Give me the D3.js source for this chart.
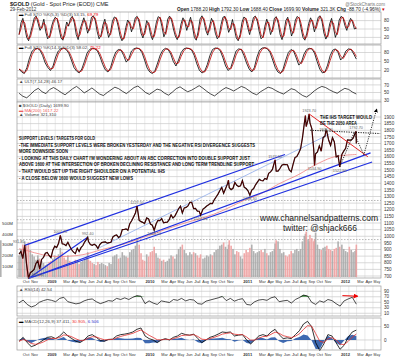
<!DOCTYPE html>
<html><head><meta charset="utf-8">
<script src="https://cdn.jsdelivr.net/npm/d3@7"></script>
<style>body{margin:0;background:#fff}svg{display:block}text{font-family:"Liberation Sans",Arial,sans-serif}</style>
</head><body><svg id="c" width="400" height="359"></svg>
<script>
// ---------------- DATA ----------------
const priceDates=["2008-09-19","2008-09-26","2008-10-03","2008-10-10","2008-10-17","2008-10-24","2008-10-31","2008-11-07","2008-11-14","2008-11-21","2008-11-28","2008-12-05","2008-12-12","2008-12-19","2008-12-26",
"2009-01-02","2009-01-09","2009-01-16","2009-01-23","2009-01-30","2009-02-06","2009-02-13","2009-02-20","2009-02-27","2009-03-06","2009-03-13","2009-03-20","2009-03-27","2009-04-03","2009-04-10","2009-04-17","2009-04-24","2009-05-01","2009-05-08","2009-05-15","2009-05-22","2009-05-29","2009-06-02","2009-06-05","2009-06-12","2009-06-19","2009-06-26","2009-07-03","2009-07-10","2009-07-17","2009-07-24","2009-07-31","2009-08-07","2009-08-14","2009-08-21","2009-08-28","2009-09-04","2009-09-11","2009-09-18","2009-09-25","2009-10-02","2009-10-09","2009-10-16","2009-10-23","2009-10-30","2009-11-06","2009-11-13","2009-11-20","2009-11-27","2009-12-03","2009-12-11","2009-12-18","2009-12-24","2009-12-31",
"2010-01-08","2010-01-15","2010-01-22","2010-01-29","2010-02-05","2010-02-12","2010-02-19","2010-02-26","2010-03-05","2010-03-12","2010-03-19","2010-03-26","2010-04-02","2010-04-09","2010-04-16","2010-04-23","2010-04-30","2010-05-07","2010-05-14","2010-05-21","2010-05-28","2010-06-04","2010-06-11","2010-06-18","2010-06-25","2010-07-02","2010-07-09","2010-07-16","2010-07-23","2010-07-28","2010-08-06","2010-08-13","2010-08-20","2010-08-27","2010-09-03","2010-09-10","2010-09-17","2010-09-24","2010-10-01","2010-10-08","2010-10-15","2010-10-22","2010-10-29","2010-11-05","2010-11-09","2010-11-12","2010-11-19","2010-11-26","2010-12-03","2010-12-10","2010-12-17","2010-12-24","2010-12-31",
"2011-01-07","2011-01-14","2011-01-21","2011-01-28","2011-02-04","2011-02-11","2011-02-18","2011-02-25","2011-03-04","2011-03-11","2011-03-18","2011-03-25","2011-04-01","2011-04-08","2011-04-15","2011-04-22","2011-04-29","2011-05-02","2011-05-06","2011-05-13","2011-05-20","2011-05-27","2011-06-03","2011-06-10","2011-06-17","2011-06-24","2011-07-01","2011-07-08","2011-07-15","2011-07-22","2011-07-29","2011-08-05","2011-08-12","2011-08-19","2011-08-23","2011-08-26","2011-09-02","2011-09-06","2011-09-09","2011-09-16","2011-09-23","2011-09-26","2011-09-30","2011-10-07","2011-10-14","2011-10-21","2011-10-28","2011-11-04","2011-11-08","2011-11-11","2011-11-18","2011-11-25","2011-12-02","2011-12-09","2011-12-16","2011-12-23","2011-12-29",
"2012-01-06","2012-01-13","2012-01-20","2012-01-27","2012-02-03","2012-02-10","2012-02-17","2012-02-24","2012-02-28","2012-02-29"];
const priceValues=[865,885,832,931,790,681,725,735,750,795,815,752,825,840,872,
878,855,838,895,925,915,945,1007,943,940,930,955,924,898,880,869,910,885,914,930,958,978,992,960,937,932,940,930,908,937,952,955,957,948,952,955,995,1006,1010,990,1003,1050,1051,1056,1045,1095,1117,1146,1176,1227,1120,1110,1105,1096,
1138,1130,1092,1083,1045,1092,1120,1118,1133,1102,1105,1106,1125,1162,1138,1152,1180,1208,1228,1176,1214,1218,1229,1256,1256,1208,1210,1190,1189,1158,1205,1215,1228,1237,1248,1246,1275,1296,1318,1345,1368,1325,1358,1393,1424,1367,1352,1362,1406,1385,1375,1380,1420,
1369,1360,1343,1309,1349,1360,1388,1409,1429,1421,1418,1436,1429,1475,1486,1504,1556,1577,1491,1492,1511,1536,1542,1541,1540,1500,1486,1542,1594,1601,1628,1660,1743,1852,1911,1828,1880,1923,1856,1812,1657,1535,1623,1636,1682,1642,1744,1756,1802,1788,1724,1686,1745,1712,1598,1607,1523,
1617,1642,1664,1727,1725,1725,1740,1775,1792,1700];
const volumeValues=[200,260,300,330,290,320,250,210,190,160,200,170,150,130,110,
120,140,150,170,200,180,210,270,230,180,160,200,150,140,130,160,150,120,140,150,170,190,230,160,150,130,120,110,140,120,130,120,110,100,130,120,190,200,210,170,180,230,200,190,180,230,250,260,290,360,300,220,160,150,
210,190,230,240,280,220,180,170,150,160,140,150,170,200,190,170,210,260,280,300,250,220,200,230,210,230,220,200,180,210,170,180,200,190,210,200,230,250,260,290,300,320,280,260,300,340,290,260,210,240,230,190,170,220,
250,230,270,300,240,220,230,240,250,230,260,220,200,230,240,260,310,340,330,260,220,230,200,190,210,240,220,250,260,240,260,330,380,400,420,350,330,390,360,330,350,410,300,260,250,270,280,240,290,260,250,240,260,270,330,280,300,
260,240,230,280,250,230,240,260,300,340];
const ma200Dates=["2008-09-19","2008-10-15","2008-11-15","2008-12-15","2009-01-15","2009-02-15","2009-03-15","2009-04-15","2009-05-15","2009-06-15","2009-07-15","2009-08-15","2009-09-15","2009-10-15","2009-11-15","2009-12-15","2010-01-15","2010-02-15","2010-03-15","2010-04-15","2010-05-15","2010-06-15","2010-07-15","2010-08-15","2010-09-15","2010-10-15","2010-11-15","2010-12-15","2011-01-15","2011-02-15","2011-03-15","2011-04-15","2011-05-15","2011-06-15","2011-07-15","2011-08-15","2011-09-15","2011-10-15","2011-11-15","2011-12-15","2012-01-15","2012-02-29"];
const ma200Values=[905,895,875,860,850,845,848,852,860,875,895,910,925,940,960,985,1005,1025,1050,1070,1090,1110,1125,1145,1165,1190,1220,1250,1280,1300,1325,1360,1395,1425,1450,1485,1525,1555,1585,1605,1612,1617];
const stoFastK=[30,72,88,55,20,8,35,62,90,96,70,45,60,85,40,15,22,58,80,92,85,50,18,10,42,75,60,88,95,72,30,12,48,70,90,65,35,55,92,97,80,40,15,28,64,85,50,20,38,78,93,88,60,25,8,20,55,82,70,40,62,90,95,75,35,18,45,80,66,30,12,35,72,94,90,58,22,40,85,96,82,50,25,12,30,68,90,75,45,70,92,60,20,10,42,86,97,80,45,28,60,88,72,35,15,25,66,92,95,70,38,55,84,50,18,8,30,74,93,86,55,30,62,91,96,78,42,15,22,60,85,64,30,50,88,94,70,30,12,38,80,92,60,25,45,82,95,88,52,20,10,35,70,90,72,40,65,92,97,76,35,14,30,68,88,55,20,40,82,95,90,62,45,72,88,75,50,53];
const stoSlowK=[25,15,10,30,62,85,92,94,88,70,45,30,20,35,65,85,93,95,90,78,55,30,18,12,25,50,78,90,94,92,85,65,40,22,15,30,60,82,90,88,70,48,60,85,93,95,92,80,55,28,15,10,20,45,72,88,94,90,75,50,35,55,80,92,95,93,88,70,42,20,12,18,40,70,90,95,94,85,62,35,20,30,58,85,92,90,70,45,25,15,30,65,88,95,96,92,80,55,30,15,10,25,55,80,90,85,62,38,48,75,90,94,92,78,50,25,12,15,38,70,88,92,80,55,65,85,92,90,75,58];
const ultValues=[48,40,36,45,55,61,52,47,58,63,57,50,44,52,60,66,58,49,55,62,54,46,42,50,57,64,60,53,47,55,63,67,59,50,45,52,59,56,48,43,51,60,65,58,52,56,62,68,61,53,46,41,49,57,63,59,54,60,66,62,55,48,44,52,58,64,61,55,50,46,53,60,57,49,42,38,45,54,61,66,63,57,52,48,55,61,58,51,46];
const rsiValues=[48,58,42,33,38,50,56,60,57,52,64,68,52,48,44,47,55,60,62,52,45,50,56,54,64,60,66,60,68,74,72,45,55,47,42,55,52,49,60,57,64,55,60,58,45,43,54,58,62,66,71,56,64,54,60,63,42,40,52,58,60,57,66,70,52,55,57,47,60,67,76,73,50,42,55,50,60,56,45,36,55,62,68,43];
const macdValues=[-5,10,-10,-25,-20,-10,0,10,12,5,15,30,15,5,-5,-10,0,15,20,10,-2,-5,2,3,15,20,22,25,30,40,45,15,5,0,-10,0,5,0,10,15,25,20,18,22,5,-10,0,10,15,22,30,28,30,15,18,20,0,-15,0,15,20,15,30,40,20,5,8,5,20,35,60,70,50,-10,-40,-15,20,15,-10,-35,-20,10,30,37];
const priceTicks=d3.range(700,1901,50);
const oscTicks=[80,50,20];
const ultTicks=[70,50,30];
const rsiTicks=[90,70,50,30,10];
const macdTicks=[50,0];
const volTicks=[100,200,300,400,500];
const notes=["SUPPORT LEVELS / TARGETS FOR GOLD",
"-THE IMMEDIATE SUPPORT LEVELS WERE BROKEN YESTERDAY AND THE NEGATIVE RSI DIVERGENCE SUGGESTS",
"MORE DOWNSIDE SOON",
"- LOOKING AT THIS DAILY CHART I'M WONDERING ABOUT AN ABC CORRECTION INTO DOUBLE SUPPORT JUST",
"ABOVE 1600 AT THE INTERSECTION OF BROKEN DECLINING RESISTANCE AND LONG TERM TRENDLINE SUPPORT",
"- THAT WOULD SET UP THE RIGHT SHOULDER ON A POTENTIAL IHS",
"- A CLOSE BELOW 1600 WOULD SUGGEST NEW LOWS"];
const noteWidths=[76,236,49,231,235,146,114];
// [date, price, text, dx, dy]
const pointLabels=[["2008-10-10",931,"931.85",-6,-2],["2008-10-24",681,"681.00",9,-2.5],["2009-02-20",1007,"1007.70",0,-2],["2009-06-02",992,"992.40",0,-2],["2009-12-03",1227,"1227.50",0,-2],["2010-02-05",1045,"1044.50",0,5],["2010-07-28",1158,"1157.00",0,5],["2011-01-28",1309,"1308.30",0,5],["2011-05-02",1577,"1577.50",0,-2],["2011-09-06",1923,"1923.70",0,-2],["2011-09-26",1535,"1534.90",0,5],["2011-11-08",1802,"1802.80",0,1],["2011-12-29",1523,"1522.90",0,5],["2012-02-28",1792,"1792.70",0,-2]];
const blueLines=[[["2008-10-10",931],["2011-06-08",1617]],[["2008-10-24",681],["2012-04-22",1629]],[["2008-10-24",681],["2012-04-28",1560]],[["2008-10-24",681],["2009-06-02",992]]];
const lightBlueLine=[["2009-07-10",908],["2011-11-20",1770]];
const redLine=[["2011-09-06",1923],["2012-04-12",1600]];
const neckLine=[["2011-09-10",1800],["2012-05-28",1775]];
const abcPath=[["2011-12-29",1523],["2012-02-20",1780],["2012-03-28",1615],["2012-05-15",1960]];

// ---------------- SETUP ----------------
const P=d3.timeParse("%Y-%m-%d");
const svg=d3.select("#c");
const X0=17,X1=381;
const x=d3.scaleTime().domain([P("2008-09-15"),P("2012-05-31")]).range([X0+1,X1]);
const pd=priceDates.map(P);
const first=pd[0],last=pd[pd.length-1];
const gridCol="#dcdcdc",borderCol="#9a9a9a";
const panels={
  s1:{t:12,b:44,y:d3.scaleLinear([0,100],[43,15])},
  s2:{t:45,b:78,y:d3.scaleLinear([0,100],[76.5,46.5])},
  ult:{t:79,b:102,y:d3.scaleLinear([25,75],[102,83])},
  main:{t:102,b:278,y:d3.scaleLinear([700,1900],[276,117])},
  rsi:{t:286,b:316,y:d3.scaleLinear([0,100],[316,288.5])},
  macd:{t:318,b:350,y:d3.scaleLinear([-40,60],[350.6,324])}
};
const months=d3.timeMonth.range(P("2008-10-01"),P("2012-06-01"));
function frame(p,ticks){
  const g=svg.append("g");
  g.append("rect").attr("x",X0).attr("y",p.t).attr("width",X1-X0).attr("height",p.b-p.t).attr("fill","#fff");
  g.selectAll(".v").data(months).join("line").attr("x1",d=>x(d)).attr("x2",d=>x(d)).attr("y1",p.t).attr("y2",p.b).attr("stroke",gridCol).attr("stroke-width",0.6);
  g.selectAll(".h").data(ticks).join("line").attr("x1",X0).attr("x2",X1).attr("y1",d=>p.y(d)).attr("y2",d=>p.y(d)).attr("stroke","#c8c8c8").attr("stroke-width",0.7);
  g.selectAll(".l").data(ticks).join("text").attr("x",X1+3).attr("y",d=>p.y(d)+1.7).attr("font-size",4.6).attr("fill","#333").text(d=>d);
  return g;
}
function drawBorder(p){svg.append("rect").attr("x",X0).attr("y",p.t).attr("width",X1-X0).attr("height",p.b-p.t).attr("fill","none").attr("stroke",borderCol).attr("stroke-width",0.7);}
function idxX(n){return d3.scaleLinear([0,n-1],[x(first),x(last)]);}
function sma(a,n){return a.map((v,i)=>{const s=a.slice(Math.max(0,i-n+1),i+1);return d3.mean(s);});}
function ema(a,k){let e=a[0];return a.map(v=>e=e+k*(v-e));}

svg.append("text").attr("x",10).attr("y",6).attr("font-size",5.6).attr("fill","#222").html('<tspan font-weight="bold">$GOLD</tspan> (Gold - Spot Price (EOD)) CME');
svg.append("text").attr("x",10).attr("y",11).attr("font-size",4.6).attr("fill","#333").text("29-Feb-2012");
svg.append("text").attr("x",385).attr("y",5.5).attr("font-size",4.6).attr("fill","#777").attr("text-anchor","end").text("@StockCharts.com");
svg.append("text").attr("x",385).attr("y",11).attr("font-size",4.6).attr("fill","#222").attr("text-anchor","end").attr("textLength",208).attr("lengthAdjust","spacingAndGlyphs")
 .html('<tspan font-weight="bold">Open</tspan> 1788.20 <tspan font-weight="bold">High</tspan> 1792.30 <tspan font-weight="bold">Low</tspan> 1688.40 <tspan font-weight="bold">Close</tspan> 1699.90 <tspan font-weight="bold">Volume</tspan> 321.3K <tspan font-weight="bold">Chg</tspan> -88.70 (-4.96%) <tspan fill="#c00">▾</tspan>');

function stoPanel(p,k,lbl,v1,v2){
  frame(p,oscTicks);
  const ix=idxX(k.length);
  const d=sma(k,2);
  const ln=d3.line().x((v,i)=>ix(i)).y(v=>p.y(v));
  svg.append("path").attr("d",ln(k)).attr("fill","none").attr("stroke","#000").attr("stroke-width",0.8);
  svg.append("path").attr("d",ln(d)).attr("fill","none").attr("stroke","#c00000").attr("stroke-width",0.8);
  svg.append("text").attr("x",19).attr("y",p.t+4.2).attr("font-size",4.4).attr("fill","#444").html(`<tspan fill="#000">▬</tspan> ${lbl} ${v1}, <tspan fill="#e00">${v2}</tspan>`);
  drawBorder(p);
}
stoPanel(panels.s1,stoFastK,"Full STO %K(5,3) %D(3)","53.15","69.79");
stoPanel(panels.s2,stoSlowK,"Full STO %K(14,3) %D(3)","58.02","75.22");
{
  const p=panels.ult;frame(p,ultTicks);const ix=idxX(ultValues.length);
  svg.append("path").attr("d",d3.line().x((v,i)=>ix(i)).y(v=>p.y(v))(ultValues)).attr("fill","none").attr("stroke","#000").attr("stroke-width",0.7);
  svg.append("text").attr("x",19).attr("y",p.t+4.2).attr("font-size",4.4).attr("fill","#444").text("▲ ULT(7,14,28) 46.17");
  drawBorder(p);
}
{
  const p=panels.main;const y=p.y;
  frame(p,priceTicks);
  svg.selectAll(".dl").data([1270,1125,975]).join("line").attr("x1",X0).attr("x2",X1).attr("y1",d=>y(d)).attr("y2",d=>y(d)).attr("stroke","#888").attr("stroke-width",0.6).attr("stroke-dasharray","1.5,1.5");
  const vy=d3.scaleLinear([0,500],[p.b-1,223]);
  svg.selectAll(".vol").data(volumeValues).join("rect")
    .attr("x",(v,i)=>x(pd[i])-0.8).attr("width",1.6)
    .attr("y",v=>vy(v)).attr("height",v=>p.b-1-vy(v))
    .attr("fill",(v,i)=>(i>0&&priceValues[i]<priceValues[i-1])?"#eea0a0":"#a8a8a8").attr("opacity",0.9);
  svg.selectAll(".vl").data(volTicks).join("text").attr("x",2).attr("y",d=>vy(d)+1.7).attr("font-size",4.4).attr("fill","#333").text(d=>d+"M");
  svg.append("path").attr("d",d3.line().curve(d3.curveBasis).x((v,i)=>x(P(ma200Dates[i]))).y(v=>y(v))(ma200Values)).attr("fill","none").attr("stroke","#f08080").attr("stroke-width",0.8);
  const L=d3.line().x(d=>x(P(d[0]))).y(d=>y(d[1]));
  blueLines.forEach(l=>svg.append("path").attr("d",L(l)).attr("stroke","#1f2fe0").attr("stroke-width",1.2).attr("fill","none"));
  svg.append("path").attr("d",L(lightBlueLine)).attr("stroke","#7fa0e8").attr("stroke-width",0.7).attr("fill","none");
  const pl=d3.line().x((v,i)=>x(pd[i])).y(v=>y(v));
  svg.append("path").attr("d",pl(priceValues)).attr("fill","none").attr("stroke","#000").attr("stroke-width",1.2);
  svg.append("path").attr("d",pl(priceValues)).attr("fill","none").attr("stroke","#c00000").attr("stroke-width",0.4);
  svg.append("path").attr("d",L(redLine)).attr("stroke","#e01010").attr("stroke-width",0.9).attr("fill","none");
  svg.append("path").attr("d",L(neckLine)).attr("stroke","#000").attr("stroke-width",0.9).attr("stroke-dasharray","1.2,1.2").attr("fill","none");
  svg.append("defs").html('<marker id="ar" viewBox="0 0 6 6" refX="5" refY="3" markerWidth="5" markerHeight="5" orient="auto"><path d="M0,0L6,3L0,6z" fill="#000"/></marker><marker id="ar2" viewBox="0 0 6 6" refX="5" refY="3" markerWidth="5" markerHeight="5" orient="auto"><path d="M0,0L6,3L0,6z" fill="#e00"/></marker>');
  svg.append("path").attr("d",L(abcPath)).attr("stroke","#000").attr("stroke-width",0.8).attr("stroke-dasharray","1.2,1.2").attr("fill","none").attr("marker-end","url(#ar)");
  pointLabels.forEach(([d,v,t,dx,dy])=>{
    svg.append("text").attr("x",x(P(d))+dx).attr("y",y(v)+dy).attr("font-size",3.8).attr("fill","#666").attr("text-anchor","middle").text(t);
  });
  svg.append("text").attr("x",19).attr("y",p.t+5).attr("font-size",4.4).attr("fill","#444").text("■ $GOLD (Daily) 1699.90");
  svg.append("text").attr("x",19).attr("y",p.t+9.5).attr("font-size",4.4).attr("fill","#f06060").text("▬ MA(200) 1617.22");
  svg.append("text").attr("x",19).attr("y",p.t+14).attr("font-size",4.4).attr("fill","#444").text("▲ Volume 321,310");
  notes.forEach((t,i)=>svg.append("text").attr("x",19).attr("y",140+i*6.6).attr("font-size",4.6).attr("font-weight","bold").attr("fill","#111").attr("textLength",noteWidths[i]).attr("lengthAdjust","spacingAndGlyphs").text(t));
  svg.append("text").attr("x",320).attr("y",119).attr("font-size",4.6).attr("font-weight","bold").attr("fill","#111").attr("textLength",52).attr("lengthAdjust","spacingAndGlyphs").text("THE IHS TARGET WOULD");
  svg.append("text").attr("x",320).attr("y",125).attr("font-size",4.6).attr("font-weight","bold").attr("fill","#111").attr("textLength",37).attr("lengthAdjust","spacingAndGlyphs").text("BE THE 2050 AREA");
  svg.append("text").attr("x",319).attr("y",221).attr("font-size",9).attr("fill","#222").attr("text-anchor","middle").attr("textLength",118).attr("lengthAdjust","spacingAndGlyphs").text("www.channelsandpatterns.com");
  svg.append("text").attr("x",320).attr("y",231).attr("font-size",9).attr("fill","#222").attr("text-anchor","middle").attr("textLength",74).attr("lengthAdjust","spacingAndGlyphs").text("twitter: @shjack666");
  drawBorder(p);
}
function axisLabels(yy){
  const lab=months.filter(m=>m.getMonth()!==11&&m.getMonth()!==1);
  svg.selectAll(null).data(lab).join("text").attr("x",d=>x(d)+0.6).attr("y",yy).attr("font-size",3.9)
   .attr("font-weight",d=>d.getMonth()===0?"bold":"normal").attr("fill","#333")
   .attr("textLength",d=>d.getMonth()===0?9:6.6).attr("lengthAdjust","spacingAndGlyphs")
   .text(d=>d.getMonth()===0?d3.timeFormat("%Y")(d):d3.timeFormat("%b")(d));
}
axisLabels(282.5);
{
  const p=panels.rsi;frame(p,rsiTicks);const ix=idxX(rsiValues.length);
  const a70=d3.area().x((v,i)=>ix(i)).y0(p.y(70)).y1(v=>p.y(Math.max(70,v)));
  const a30=d3.area().x((v,i)=>ix(i)).y0(p.y(30)).y1(v=>p.y(Math.min(30,v)));
  svg.append("path").attr("d",a70(rsiValues)).attr("fill","#3a8a3a");
  svg.append("path").attr("d",a30(rsiValues)).attr("fill","#d04040");
  svg.append("path").attr("d",d3.line().x((v,i)=>ix(i)).y(v=>p.y(v))(rsiValues)).attr("fill","none").attr("stroke","#000").attr("stroke-width",0.7);
  svg.append("line").attr("x1",x(P("2012-01-08"))).attr("y1",p.y(74)).attr("x2",x(P("2012-03-05"))).attr("y2",p.y(72)).attr("stroke","#e00").attr("stroke-width",1).attr("marker-end","url(#ar2)");
  svg.append("text").attr("x",19).attr("y",p.t+4.5).attr("font-size",4.4).attr("fill","#444").text("▲ RSI(14) 42.54");
  drawBorder(p);
}
{
  const p=panels.macd;frame(p,macdTicks);const ix=idxX(macdValues.length);
  const sig=ema(macdValues,0.45);
  const hist=macdValues.map((v,i)=>v-sig[i]);
  svg.append("path").attr("d",d3.area().x((v,i)=>ix(i)).y0(p.y(0)).y1(v=>p.y(v))(hist)).attr("fill","#2a5aa8").attr("opacity",0.9);
  svg.append("path").attr("d",d3.line().x((v,i)=>ix(i)).y(v=>p.y(v))(macdValues)).attr("fill","none").attr("stroke","#000").attr("stroke-width",0.8);
  svg.append("path").attr("d",d3.line().x((v,i)=>ix(i)).y(v=>p.y(v))(sig)).attr("fill","none").attr("stroke","#e03030").attr("stroke-width",0.8);
  svg.append("text").attr("x",19).attr("y",p.t+4.5).attr("font-size",4.4).attr("fill","#444").html('<tspan fill="#000">▬</tspan> MACD(12,26,9) 37.411, <tspan fill="#e33">30.905</tspan>, <tspan fill="#33c">6.506</tspan>');
  drawBorder(p);
}
axisLabels(355.5);
</script></body></html>
